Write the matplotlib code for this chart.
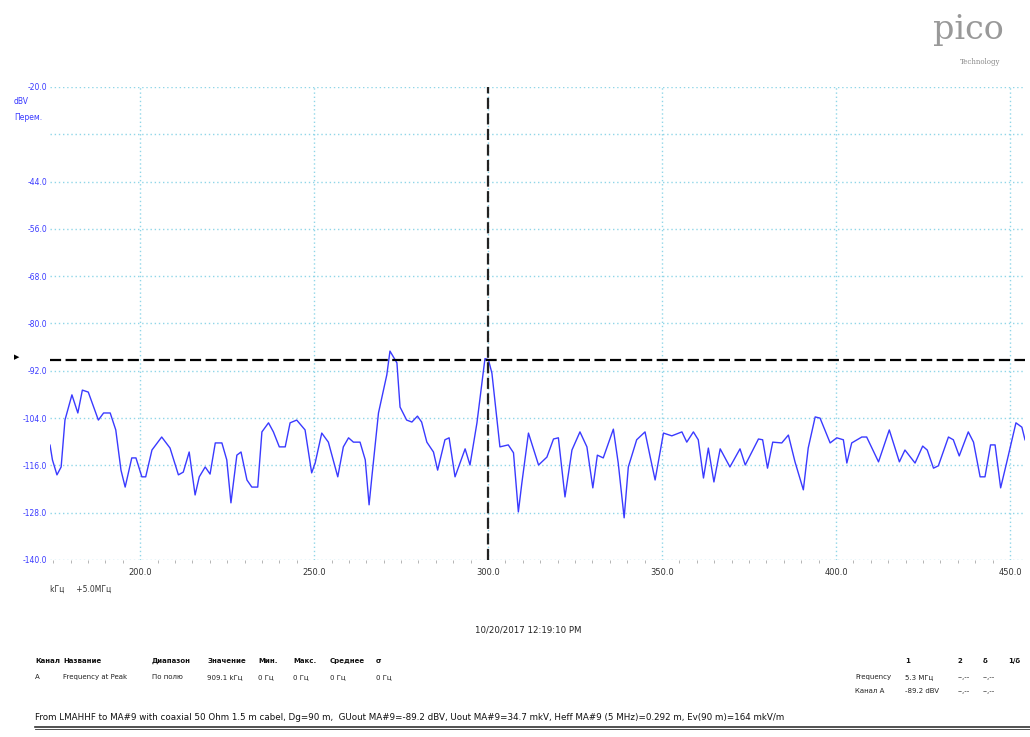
import matplotlib
matplotlib.use("Agg")
import matplotlib.pyplot as plt
from matplotlib.ticker import MultipleLocator

# spectre autour du pic (kHz, décalage +5 MHz) et niveau en dBV
freq_khz = [173.2, 174.1, 174.8, 176.1, 177.3, 178.4, 180.4, 182.1, 183.4, 185.1,
            188.0, 189.5, 191.4, 193.0, 194.5, 195.7, 197.6, 198.8, 200.5, 201.6,
            203.4, 206.2, 208.6, 211.0, 212.4, 214.1, 215.8, 217.0, 218.7, 220.1,
            221.6, 223.5, 224.9, 226.1, 227.8, 229.0, 230.7, 232.1, 233.8, 235.0,
            236.9, 238.3, 240.0, 241.7, 243.1, 245.0, 247.4, 249.3, 250.3, 252.2,
            254.1, 256.8, 258.4, 259.9, 261.3, 263.2, 264.7, 265.8, 266.6, 268.5,
            270.9, 271.8, 273.8, 274.7, 276.6, 278.1, 279.7, 280.9, 282.4, 284.3,
            285.5, 287.6, 288.8, 290.5, 293.4, 294.8, 296.8, 299.1, 300.1, 301.1,
            303.4, 305.8, 307.3, 308.7, 309.7, 311.6, 314.5, 316.9, 318.8, 320.2,
            322.1, 324.1, 326.4, 328.4, 330.1, 331.4, 333.1, 336.0, 337.4, 339.1,
            340.3, 342.7, 345.1, 346.6, 348.0, 350.4, 352.8, 355.7, 357.1, 359.0,
            360.4, 361.9, 363.3, 364.9, 366.7, 369.5, 372.4, 373.9, 377.7, 378.9,
            380.3, 381.8, 384.4, 386.3, 388.2, 390.6, 392.0, 394.0, 395.4, 398.3,
            400.2, 402.1, 403.1, 404.5, 407.4, 408.8, 412.2, 415.3, 418.2, 419.8,
            422.7, 424.9, 426.2, 428.0, 429.4, 432.3, 433.7, 435.4, 438.0, 439.5,
            441.4, 442.8, 444.4, 445.7, 447.3, 449.0, 451.7, 453.4, 454.3]
level_dbv = [-114.6, -110.8, -114.6, -118.4, -116.4, -104.5, -98.1, -102.7, -96.9, -97.4,
             -104.5, -102.7, -102.7, -107.0, -117.2, -121.5, -114.1, -114.1, -118.9, -118.9,
             -112.1, -108.8, -111.6, -118.4, -117.7, -112.6, -123.5, -118.9, -116.4, -118.2,
             -110.3, -110.3, -114.6, -125.5, -113.4, -112.6, -119.7, -121.5, -121.5, -107.5,
             -105.2, -107.5, -111.3, -111.3, -105.2, -104.5, -107.0, -117.9, -115.4, -107.8,
             -110.1, -118.9, -111.3, -109.0, -110.1, -110.1, -114.6, -126.0, -118.9, -102.7,
             -93.0, -87.0, -90.0, -101.2, -104.5, -105.0, -103.5, -105.0, -110.1, -112.6,
             -117.2, -109.5, -109.0, -118.9, -111.8, -115.9, -105.2, -88.9, -89.2, -92.6,
             -111.3, -110.8, -112.8, -127.8, -120.5, -107.8, -115.9, -113.9, -109.3, -109.0,
             -124.0, -112.1, -107.5, -111.3, -121.7, -113.4, -114.1, -106.8, -115.4, -129.3,
             -116.4, -109.5, -107.5, -113.9, -119.7, -107.8, -108.5, -107.5, -110.1, -107.5,
             -109.5, -119.2, -111.6, -120.2, -111.8, -116.4, -111.8, -115.9, -109.3, -109.5,
             -116.7, -110.1, -110.3, -108.3, -115.1, -122.2, -111.6, -103.7, -104.0, -110.3,
             -109.0, -109.5, -115.4, -110.3, -108.8, -108.8, -115.1, -107.0, -115.1, -112.1,
             -115.4, -111.1, -112.1, -116.7, -116.1, -108.8, -109.5, -113.6, -107.5, -110.1,
             -118.9, -118.9, -110.8, -110.8, -121.7, -115.4, -105.2, -106.3, -109.5]

y_ticks = [-20, -32, -44, -56, -68, -80, -92, -104, -116, -128, -140]
y_labels = ["-20.0", "", "-44.0", "-56.0", "-68.0", "-80.0", "-92.0",
            "-104.0", "-116.0", "-128.0", "-140.0"]
x_ticks = [200, 250, 300, 350, 400, 450]
x_labels = ["200.0", "250.0", "300.0", "350.0", "400.0", "450.0"]

cursor_freq = 300.0
cursor_level = -89.2

# tableau des mesures
meas_header = ["Канал", "Название", "Диапазон", "Значение", "Мин.", "Макс.", "Среднее", "σ"]
meas_row = ["A", "Frequency at Peak", "По полю", "909.1 kГц", "0 Гц", "0 Гц", "0 Гц", "0 Гц"]
meas_x = [35, 63, 152, 207, 258, 293, 330, 376]

cur_header = ["1", "2", "δ", "1/δ"]
cur_rows = [["Frequency", "5.3 MГц", "--,--", "--,--"],
            ["Канал A", "-89.2 dBV", "--,--", "--,--"]]

W, H = 1030, 737
fig = plt.figure(figsize=(W / 100, H / 100), dpi=100)
ax = fig.add_axes([50 / W, 1 - 560 / H, 975 / W, 473 / H])

def ftxt(x, y, s, **kw):
    # position en pixels de la page
    fig.text(x / W, 1 - y / H, s, **kw)

blue = "#3a3aff"
grid_c = "#8fd6e8"

ax.plot(freq_khz, level_dbv, color=blue, lw=1.0)
ax.axhline(cursor_level, color="black", lw=1.6, ls=(0, (5, 2)))
ax.axvline(cursor_freq, color="#222222", lw=1.6, ls=(0, (5, 2)))

ax.set_xlim(174.1, 454.3)
ax.set_ylim(-140, -20)
ax.set_yticks(y_ticks)
ax.set_yticklabels(y_labels, color=blue, fontsize=5.5)
ax.set_xticks(x_ticks)
ax.set_xticklabels(x_labels, color="#333333", fontsize=6)
ax.xaxis.set_minor_locator(MultipleLocator(5))
ax.tick_params(axis="y", length=0, pad=2)
ax.tick_params(axis="x", which="major", length=0, pad=6)
ax.tick_params(axis="x", which="minor", length=2, color="#aaaaaa", direction="out")
ax.grid(True, which="major", color=grid_c, ls=(0, (1, 2)), lw=1.0)
for s in ax.spines.values():
    s.set_visible(False)

# marqueur du curseur à gauche
ftxt(17, 357, "▶", fontsize=5, color="black", ha="center", va="center")

ftxt(14, 101, "dBV", fontsize=5.5, color=blue, va="center")
ftxt(14, 117, "Перем.", fontsize=5.5, color=blue, va="center")
ftxt(50, 589, "kГц     +5.0MГц", fontsize=5.5, color="#333333", va="center")

# logo
ftxt(968, 30, "pico", fontsize=24, color="#999999", family="DejaVu Serif",
     ha="center", va="center")
ftxt(980, 62, "Technology", fontsize=5, color="#888888", family="DejaVu Serif",
     ha="center", va="center")

ftxt(528, 630, "10/20/2017 12:19:10 PM", fontsize=6.2, color="#222222",
     ha="center", va="center")

for x, h, v in zip(meas_x, meas_header, meas_row):
    ftxt(x, 661, h, fontsize=5, fontweight="bold", color="#111111", va="center")
    ftxt(x, 677, v, fontsize=5, color="#222222", va="center")

cur_x = [905, 958, 983, 1008]
for x, h in zip(cur_x, cur_header):
    ftxt(x, 661, h, fontsize=5, fontweight="bold", color="#111111", va="center")
for i, row in enumerate(cur_rows):
    yy = 677 + i * 14
    ftxt(855, yy, row[0], fontsize=5, color="#222222", va="center")
    for x, v in zip(cur_x, row[1:]):
        ftxt(x, yy, v, fontsize=5, color="#222222", va="center")

ftxt(35, 718, "From LMAHHF to MA#9 with coaxial 50 Ohm 1.5 m cabel, Dg=90 m,  "
     "GUout MA#9=-89.2 dBV, Uout MA#9=34.7 mkV, Heff MA#9 (5 MHz)=0.292 m, "
     "Ev(90 m)=164 mkV/m", fontsize=6.3, color="#111111", va="center")
fig.add_artist(plt.Line2D([35 / W, 1.0], [1 - 727 / H] * 2, color="#333333", lw=1.2))
fig.add_artist(plt.Line2D([35 / W, 1.0], [1 - 729 / H] * 2, color="#333333", lw=0.6))

fig.savefig("out.png", dpi=100)
